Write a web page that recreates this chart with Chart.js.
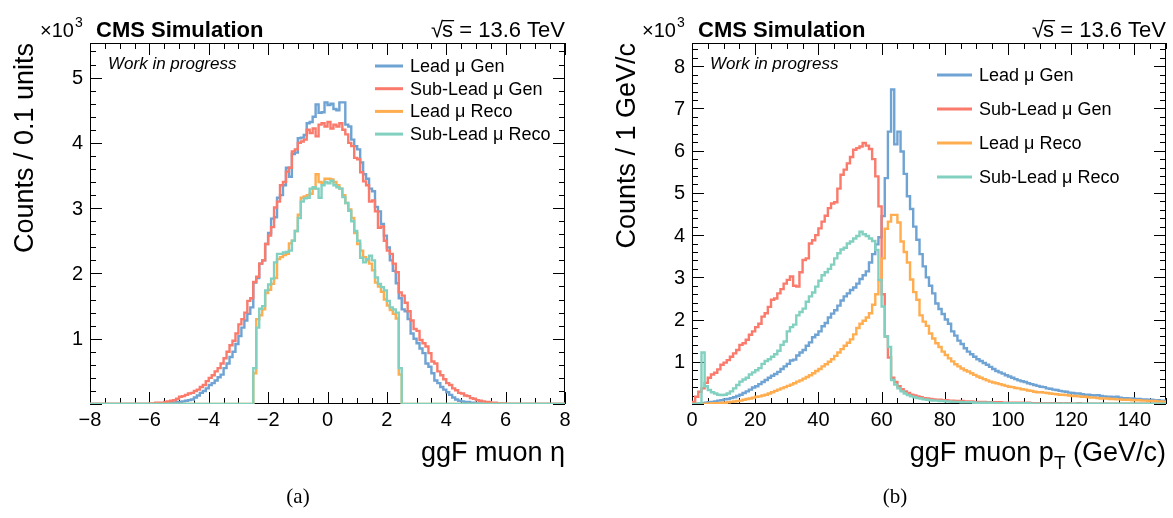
<!DOCTYPE html>
<html>
<head>
<meta charset="utf-8">
<script src="https://cdn.jsdelivr.net/npm/chart.js@4.4.1/dist/chart.umd.min.js"></script>
<style>
  body { margin: 0; background: #fff; }
  #wrap { position: relative; width: 1173px; height: 518px; }
  canvas { position: absolute; top: 0; }
  #etaChart { left: 0; }
  #ptChart { left: 586px; }
</style>
</head>
<body>
<div id="wrap">
  <canvas id="etaChart" width="586" height="518"></canvas>
  <canvas id="ptChart" width="587" height="518"></canvas>
</div>
<script>
// series names and colours
const seriesNames = ['Lead \u03bc Gen', 'Sub-Lead \u03bc Gen', 'Lead \u03bc Reco', 'Sub-Lead \u03bc Reco'];
const seriesColors = ['#6ea3d3', '#fa7a6c', '#ffad4f', '#82d1c0'];

// (a) muon eta, 0.1 wide bins, counts in units of 10^3
const etaBinWidth = 0.1;
const etaGenFirstEdge = -6.0;   // gen arrays start here
const etaRecoFirstEdge = -2.5;  // reco arrays start here
const etaAxis = [-8, 8];
const etaYMax = 5.53;

const etaLeadGen = [
  0, 0, 0, 0, 0, 0.01, 0.01, 0.02, 0.02, 0.03,
  0.03, 0.04, 0.05, 0.06, 0.07, 0.10, 0.13, 0.17, 0.20, 0.24,
  0.29, 0.32, 0.36, 0.41, 0.45, 0.55, 0.62, 0.72, 0.80, 0.92,
  1.04, 1.17, 1.28, 1.38, 1.48, 1.86, 1.93, 2.15, 2.20, 2.45,
  2.62, 2.84, 2.86, 3.16, 3.20, 3.35, 3.62, 3.48, 3.83, 3.85,
  4.07, 4.08, 4.12, 4.30, 4.32, 4.40, 4.59, 4.46, 4.47, 4.62,
  4.58, 4.60, 4.52, 4.50, 4.62, 4.62, 4.28, 4.25, 4.05, 3.95,
  3.90, 3.70, 3.52, 3.45, 3.30, 3.26, 3.02, 2.95, 2.76, 2.58,
  2.40, 2.20, 2.04, 1.85, 1.62, 1.45, 1.42, 1.30, 1.08, 1.00,
  0.93, 0.85, 0.78, 0.62, 0.57, 0.47, 0.36, 0.32, 0.26, 0.22,
  0.18, 0.14, 0.10, 0.07, 0.05, 0.04, 0.03, 0.03, 0.02, 0.02,
  0.01, 0.01, 0, 0, 0, 0, 0, 0, 0, 0
];
const etaSubGen = [
  0.01, 0.01, 0.02, 0.02, 0.02, 0.03, 0.04, 0.05, 0.06, 0.08,
  0.11, 0.12, 0.14, 0.16, 0.17, 0.20, 0.22, 0.26, 0.29, 0.35,
  0.40, 0.44, 0.50, 0.55, 0.62, 0.70, 0.80, 0.90, 0.97, 1.08,
  1.22, 1.30, 1.40, 1.58, 1.62, 1.87, 1.95, 2.15, 2.20, 2.45,
  2.58, 2.71, 3.01, 3.10, 3.35, 3.40, 3.56, 3.62, 3.87, 3.90,
  4.00, 4.02, 4.05, 4.20, 4.15, 4.22, 4.10, 4.28, 4.30, 4.25,
  4.32, 4.22, 4.28, 4.25, 4.30, 4.20, 4.13, 4.00, 3.95, 3.77,
  3.75, 3.55, 3.41, 3.35, 3.10, 3.12, 2.95, 2.70, 2.72, 2.50,
  2.35, 2.30, 2.15, 2.02, 1.71, 1.66, 1.55, 1.42, 1.28, 1.15,
  1.12, 0.98, 0.93, 0.88, 0.78, 0.65, 0.62, 0.50, 0.44, 0.38,
  0.32, 0.29, 0.24, 0.21, 0.17, 0.16, 0.13, 0.12, 0.09, 0.08,
  0.06, 0.05, 0.04, 0.03, 0.03, 0.02, 0.02, 0.01, 0.01, 0.01
];
const etaLeadReco = [
  0.47, 1.30, 1.36, 1.45, 1.70, 1.75, 1.84, 1.93, 2.22, 2.25,
  2.28, 2.30, 2.46, 2.50, 2.65, 2.90, 3.16, 3.18, 3.20, 3.22,
  3.30, 3.52, 3.40, 3.38, 3.45, 3.45, 3.44, 3.40, 3.35, 3.30,
  3.20, 3.08, 2.98, 2.85, 2.62, 2.45, 2.35, 2.25, 2.20, 2.15,
  2.05, 1.86, 1.80, 1.72, 1.60, 1.51, 1.44, 1.38, 1.31, 0.45
];
const etaSubReco = [
  0.55, 1.17, 1.46, 1.50, 1.74, 1.83, 1.92, 2.17, 2.30, 2.30,
  2.32, 2.33, 2.35, 2.50, 2.65, 2.85, 3.10, 3.15, 3.16, 3.30,
  3.32, 3.30, 3.16, 3.35, 3.40, 3.38, 3.42, 3.35, 3.32, 3.30,
  3.17, 3.08, 2.96, 2.80, 2.65, 2.50, 2.24, 2.17, 2.22, 2.27,
  2.20, 1.94, 1.84, 1.79, 1.74, 1.58, 1.48, 1.45, 1.40, 0.55
];

// (b) muon pT, 1 GeV bins from 0 to 150, counts in units of 10^3
const ptBinWidth = 1;
const ptFirstEdge = 0;
const ptAxis = [0, 150];
const ptYMax = 8.55;

const ptLeadGen = [
  0.00, 0.01, 0.01, 0.02, 0.03, 0.04, 0.05, 0.06, 0.08, 0.09,
  0.11, 0.12, 0.14, 0.16, 0.19, 0.22, 0.26, 0.30, 0.34, 0.39,
  0.42, 0.47, 0.52, 0.57, 0.62, 0.67, 0.71, 0.76, 0.83, 0.89,
  0.95, 1.03, 1.05, 1.15, 1.22, 1.28, 1.38, 1.46, 1.58, 1.64,
  1.72, 1.84, 1.92, 2.05, 2.14, 2.22, 2.33, 2.45, 2.55, 2.62,
  2.70, 2.76, 2.85, 2.96, 3.05, 3.14, 3.35, 3.55, 3.78, 3.95,
  4.45, 5.35, 6.45, 7.45, 6.15, 6.45, 5.98, 5.45, 4.92, 4.62,
  4.20, 3.89, 3.55, 3.26, 3.00, 2.80, 2.62, 2.38, 2.25, 2.13,
  2.00, 1.90, 1.72, 1.62, 1.50, 1.42, 1.32, 1.24, 1.18, 1.12,
  1.06, 1.02, 0.97, 0.93, 0.88, 0.83, 0.78, 0.75, 0.72, 0.68,
  0.65, 0.62, 0.59, 0.56, 0.54, 0.52, 0.49, 0.47, 0.45, 0.43,
  0.41, 0.40, 0.37, 0.36, 0.34, 0.33, 0.31, 0.30, 0.29, 0.27,
  0.26, 0.25, 0.25, 0.23, 0.22, 0.22, 0.21, 0.20, 0.21, 0.19,
  0.18, 0.17, 0.17, 0.16, 0.17, 0.15, 0.14, 0.14, 0.13, 0.13,
  0.12, 0.12, 0.11, 0.11, 0.10, 0.10, 0.09, 0.09, 0.08, 0.08
];
const ptSubGen = [
  0.05, 0.17, 0.29, 0.37, 0.50, 0.62, 0.70, 0.74, 0.82, 0.93,
  0.98, 1.04, 1.12, 1.20, 1.28, 1.40, 1.44, 1.52, 1.64, 1.72,
  1.82, 1.90, 2.07, 2.15, 2.30, 2.47, 2.50, 2.62, 2.72, 2.85,
  2.94, 3.02, 2.80, 2.78, 3.12, 3.41, 3.45, 3.80, 3.88, 4.00,
  4.16, 4.32, 4.46, 4.64, 4.75, 4.78, 5.10, 5.43, 5.55, 5.70,
  5.85, 6.02, 6.06, 6.10, 6.18, 6.12, 6.04, 5.80, 5.39, 4.68,
  2.60, 1.60, 1.10, 0.62, 0.52, 0.42, 0.35, 0.30, 0.26, 0.22,
  0.20, 0.18, 0.16, 0.14, 0.13, 0.12, 0.11, 0.10, 0.10, 0.09,
  0.09, 0.08, 0.08, 0.07, 0.07, 0.07, 0.06, 0.06, 0.06, 0.05,
  0.05, 0.05, 0.05, 0.04, 0.04, 0.04, 0.04, 0.04, 0.03, 0.03,
  0.03, 0.03, 0.03, 0.03, 0.03, 0.02, 0.03, 0.02, 0.02, 0.02,
  0.02, 0.02, 0.02, 0.02, 0.02, 0.02, 0.02, 0.01, 0.02, 0.02,
  0.01, 0.01, 0.02, 0.01, 0.01, 0.01, 0.01, 0.01, 0.01, 0.01,
  0.01, 0.01, 0.01, 0.01, 0.01, 0.01, 0.01, 0.01, 0.01, 0.01,
  0.01, 0.01, 0.01, 0.01, 0.01, 0.01, 0.01, 0.01, 0.01, 0.01
];
const ptLeadReco = [
  0.00, 0.00, 0.00, 0.01, 0.01, 0.01, 0.02, 0.02, 0.02, 0.03,
  0.03, 0.04, 0.05, 0.06, 0.07, 0.08, 0.10, 0.12, 0.13, 0.15,
  0.17, 0.18, 0.20, 0.22, 0.25, 0.28, 0.31, 0.34, 0.37, 0.40,
  0.43, 0.46, 0.49, 0.53, 0.56, 0.60, 0.64, 0.68, 0.73, 0.78,
  0.83, 0.89, 0.94, 1.00, 1.06, 1.14, 1.22, 1.30, 1.38, 1.45,
  1.53, 1.65, 1.80, 1.90, 1.97, 2.05, 2.15, 2.35, 2.60, 2.93,
  3.45, 4.15, 4.32, 4.48, 4.48, 4.30, 3.85, 3.60, 3.35, 2.95,
  2.65, 2.47, 2.10, 1.95, 1.85, 1.67, 1.55, 1.44, 1.35, 1.24,
  1.16, 1.08, 1.01, 0.94, 0.89, 0.84, 0.80, 0.77, 0.73, 0.69,
  0.65, 0.62, 0.59, 0.56, 0.53, 0.51, 0.49, 0.47, 0.45, 0.43,
  0.41, 0.40, 0.38, 0.37, 0.35, 0.34, 0.32, 0.31, 0.29, 0.28,
  0.28, 0.27, 0.26, 0.25, 0.24, 0.23, 0.22, 0.22, 0.21, 0.20,
  0.19, 0.19, 0.18, 0.17, 0.17, 0.16, 0.15, 0.15, 0.14, 0.13,
  0.13, 0.13, 0.12, 0.12, 0.11, 0.11, 0.10, 0.10, 0.10, 0.09,
  0.09, 0.09, 0.08, 0.08, 0.07, 0.07, 0.07, 0.06, 0.06, 0.05
];
const ptSubReco = [
  0.00, 0.00, 0.02, 1.22, 0.42, 0.33, 0.28, 0.25, 0.22, 0.21,
  0.22, 0.25, 0.30, 0.37, 0.45, 0.53, 0.58, 0.62, 0.70, 0.75,
  0.80, 0.85, 0.95, 1.02, 1.06, 1.12, 1.18, 1.26, 1.40, 1.48,
  1.72, 1.82, 1.88, 2.10, 2.18, 2.26, 2.42, 2.55, 2.64, 2.78,
  2.92, 3.05, 3.12, 3.20, 3.30, 3.45, 3.57, 3.66, 3.70, 3.80,
  3.85, 3.92, 3.98, 4.08, 4.02, 3.98, 3.92, 3.86, 3.65, 2.94,
  2.31, 1.60, 1.35, 0.57, 0.46, 0.37, 0.30, 0.25, 0.21, 0.18,
  0.16, 0.14, 0.13, 0.11, 0.10, 0.09, 0.08, 0.08, 0.07, 0.07,
  0.06, 0.06, 0.05, 0.05, 0.05, 0.04, 0.04, 0.04, 0.04, 0.03,
  0.03, 0.03, 0.03, 0.03, 0.03, 0.02, 0.02, 0.02, 0.02, 0.02,
  0.02, 0.02, 0.02, 0.02, 0.02, 0.01, 0.02, 0.01, 0.01, 0.01,
  0.01, 0.01, 0.01, 0.01, 0.01, 0.01, 0.01, 0.01, 0.01, 0.01,
  0.01, 0.01, 0.01, 0.01, 0.01, 0.01, 0.01, 0.01, 0.01, 0.01,
  0.01, 0.01, 0.01, 0.01, 0.01, 0.01, 0.01, 0.01, 0.01, 0.01,
  0.01, 0.01, 0.01, 0.01, 0.01, 0.01, 0.01, 0.01, 0.01, 0.01
];

const SANS = '"Liberation Sans", Arial, Helvetica, sans-serif';

// histogram -> points on bin low edges, drawn with stepped lines
function histPoints(firstEdge, width, values, axis) {
  const pts = [];
  if (firstEdge > axis[0]) pts.push({x: axis[0], y: 0});
  values.forEach((v, i) => pts.push({x: firstEdge + i * width, y: v}));
  const end = firstEdge + values.length * width;
  if (end < axis[1] - 1e-9) {
    pts.push({x: end, y: 0});
    pts.push({x: axis[1], y: 0});
  } else {
    pts.push({x: end, y: values[values.length - 1]});
  }
  return pts;
}

function makeDatasets(list) {
  // ROOT draw order: first series at the bottom, last on top
  return list.map((pts, i) => ({
    label: seriesNames[i],
    data: pts,
    borderColor: seriesColors[i],
    borderWidth: 2.4,
    stepped: true,
    pointRadius: 0,
    fill: false,
    order: list.length - i
  }));
}

function fmtNum(v) {
  const r = Math.round(v);
  return r < 0 ? '\u2212' + Math.abs(r) : String(r);
}

const rootStyle = {
  id: 'rootStyle',
  beforeDatasetsDraw(chart, args, o) {
    const {ctx, chartArea: a, scales: {x, y}} = chart;
    ctx.save();
    ctx.strokeStyle = '#000';
    ctx.lineWidth = 1;
    ctx.strokeRect(a.left + 0.5, a.top + 0.5, a.right - a.left - 1, a.bottom - a.top - 1);
    ctx.beginPath();
    const nx = Math.round((o.xMax - o.xMin) / o.xMinor);
    for (let i = 0; i <= nx; i++) {
      const px = Math.round(x.getPixelForValue(o.xMin + i * o.xMinor)) + 0.5;
      const len = i % o.xPerMajor === 0 ? 12 : 6;
      ctx.moveTo(px, a.bottom); ctx.lineTo(px, a.bottom - len);
      ctx.moveTo(px, a.top); ctx.lineTo(px, a.top + len);
    }
    const ny = Math.floor(o.yMax / o.yMinor + 1e-6);
    for (let i = 0; i <= ny; i++) {
      const py = Math.round(y.getPixelForValue(i * o.yMinor)) + 0.5;
      const len = i % o.yPerMajor === 0 ? 12 : 6;
      ctx.moveTo(a.left, py); ctx.lineTo(a.left + len, py);
      ctx.moveTo(a.right, py); ctx.lineTo(a.right - len, py);
    }
    ctx.stroke();
    ctx.restore();
  },
  afterDraw(chart, args, o) {
    const {ctx, chartArea: a, scales: {x, y}} = chart;
    ctx.save();
    ctx.fillStyle = '#000';

    // tick labels
    ctx.font = '20px ' + SANS;
    ctx.textAlign = 'center';
    ctx.textBaseline = 'alphabetic';
    for (let v = o.xMin; v <= o.xMax + 1e-9; v += o.xMinor * o.xPerMajor) {
      if (v > o.xLabelMax) continue;
      ctx.fillText(fmtNum(v), x.getPixelForValue(v), a.bottom + 22);
    }
    ctx.textAlign = 'right';
    ctx.textBaseline = 'middle';
    for (let v = 1; v <= o.yMax; v++) {
      ctx.fillText(String(v), a.left - 7, y.getPixelForValue(v) + 1);
    }

    // axis titles
    ctx.font = '27px ' + SANS;
    ctx.textBaseline = 'alphabetic';
    ctx.save();
    ctx.translate(a.left - 57, a.top);
    ctx.rotate(-Math.PI / 2);
    ctx.textAlign = 'right';
    ctx.fillText(o.yTitle, 0, 0);
    ctx.restore();

    const xt = o.xTitle;
    ctx.textAlign = 'left';
    const subFont = '19px ' + SANS;
    let w = 0;
    xt.forEach(p => { ctx.font = p.sub ? subFont : '27px ' + SANS; w += ctx.measureText(p.t).width; });
    let cx = a.right - w;
    const base = a.bottom + 57;
    xt.forEach(p => {
      ctx.font = p.sub ? subFont : '27px ' + SANS;
      ctx.fillText(p.t, cx, p.sub ? base + 8 : base);
      cx += ctx.measureText(p.t).width;
    });

    // header
    ctx.font = '20px ' + SANS;
    ctx.textAlign = 'left';
    ctx.fillText('\u00d710', a.left - 50, 37);
    const w10 = ctx.measureText('\u00d710').width;
    ctx.font = '14px ' + SANS;
    ctx.fillText('3', a.left - 50 + w10 + 1, 27);
    ctx.font = 'bold 22px ' + SANS;
    ctx.fillText('CMS Simulation', a.left + 6, 37);
    ctx.font = '22px ' + SANS;
    ctx.textAlign = 'right';
    const rest = 's = 13.6 TeV';
    ctx.fillText(rest, a.right, 37);
    const wRest = ctx.measureText(rest).width;
    const wS = ctx.measureText('s').width;
    ctx.fillText('\u221a', a.right - wRest + 1, 37);
    ctx.fillRect(a.right - wRest, 20, wS + 1, 1.3);

    ctx.font = 'italic 17px ' + SANS;
    ctx.textAlign = 'left';
    ctx.fillText('Work in progress', a.left + 18, 69);

    // legend
    const L = o.legend;
    ctx.font = '18px ' + SANS;
    ctx.textBaseline = 'middle';
    seriesNames.forEach((name, i) => {
      const ly = L.y0 + i * L.dy;
      ctx.strokeStyle = seriesColors[i];
      ctx.lineWidth = 3;
      ctx.beginPath();
      ctx.moveTo(a.right - L.fromRight, ly);
      ctx.lineTo(a.right - L.fromRight + L.len, ly);
      ctx.stroke();
      ctx.fillText(name, a.right - L.fromRight + L.len + 7, ly + 1);
    });

    // caption
    ctx.font = '21px "Liberation Serif", "DejaVu Serif", serif';
    ctx.textAlign = 'center';
    ctx.textBaseline = 'alphabetic';
    ctx.fillText(o.caption, o.captionX, 503);
    ctx.restore();
  }
};

function makeChart(id, datasets, axis, yMax, padding, style) {
  return new Chart(document.getElementById(id), {
    type: 'line',
    data: { datasets },
    options: {
      responsive: false,
      animation: false,
      layout: { padding },
      scales: {
        x: { type: 'linear', min: axis[0], max: axis[1], display: false },
        y: { min: 0, max: yMax, display: false }
      },
      plugins: {
        legend: { display: false },
        tooltip: { enabled: false },
        rootStyle: style
      }
    },
    plugins: [rootStyle]
  });
}

makeChart('etaChart', makeDatasets([
    histPoints(etaGenFirstEdge, etaBinWidth, etaLeadGen, etaAxis),
    histPoints(etaGenFirstEdge, etaBinWidth, etaSubGen, etaAxis),
    histPoints(etaRecoFirstEdge, etaBinWidth, etaLeadReco, etaAxis),
    histPoints(etaRecoFirstEdge, etaBinWidth, etaSubReco, etaAxis)
  ]), etaAxis, etaYMax,
  { left: 90, right: 21, top: 43, bottom: 114 },
  {
    xMin: -8, xMax: 8, xMinor: 0.5, xPerMajor: 4, xLabelMax: 8,
    yMax: etaYMax, yMinor: 0.2, yPerMajor: 5,
    yTitle: 'Counts / 0.1 units',
    xTitle: [{t: 'ggF muon \u03b7'}],
    legend: { fromRight: 190, len: 28, y0: 66, dy: 22.7 },
    caption: '(a)', captionX: 298
  });

makeChart('ptChart', makeDatasets([
    histPoints(ptFirstEdge, ptBinWidth, ptLeadGen, ptAxis),
    histPoints(ptFirstEdge, ptBinWidth, ptSubGen, ptAxis),
    histPoints(ptFirstEdge, ptBinWidth, ptLeadReco, ptAxis),
    histPoints(ptFirstEdge, ptBinWidth, ptSubReco, ptAxis)
  ]), ptAxis, ptYMax,
  { left: 106, right: 7, top: 43, bottom: 114 },
  {
    xMin: 0, xMax: 150, xMinor: 5, xPerMajor: 4, xLabelMax: 140,
    yMax: ptYMax, yMinor: 0.2, yPerMajor: 5,
    yTitle: 'Counts / 1 GeV/c',
    xTitle: [{t: 'ggF muon p'}, {t: 'T', sub: true}, {t: ' (GeV/c)'}],
    legend: { fromRight: 229, len: 35, y0: 75, dy: 34 },
    caption: '(b)', captionX: 309
  });
</script>
</body>
</html>
